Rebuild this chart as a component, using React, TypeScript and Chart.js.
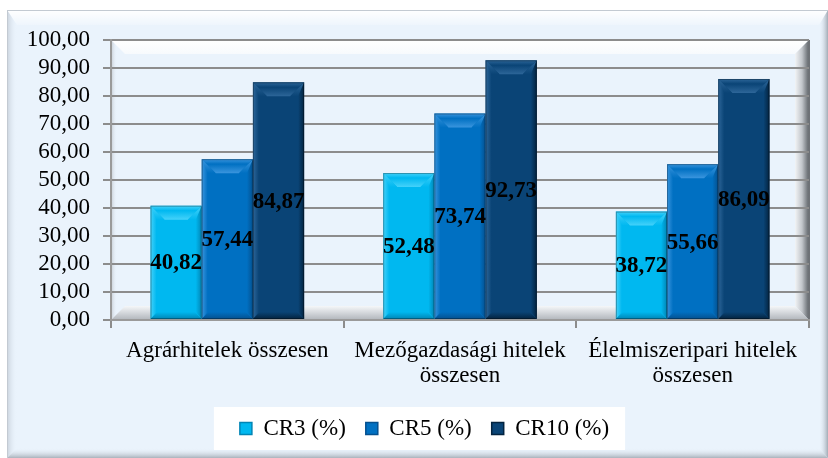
import React, { useEffect, useRef } from 'react';
import { Chart, registerables } from 'chart.js';

Chart.register(...registerables);

// ---- data ----
const categories: (string | string[])[] = [
  'Agrárhitelek összesen',
  ['Mezőgazdasági hitelek', 'összesen'],
  ['Élelmiszeripari hitelek', 'összesen'],
];
const seriesNames = ['CR3 (%)', 'CR5 (%)', 'CR10 (%)'];
const cr3 = [40.82, 52.48, 38.72];
const cr5 = [57.44, 73.74, 55.66];
const cr10 = [84.87, 92.73, 86.09];
const yMin = 0;
const yMax = 100;
const yStep = 10;

// ---- styles ----
const FONT = '"Liberation Serif", "Times New Roman", serif';
const BASE = ['#00B8F0', '#0070C2', '#0A4476'];
const LIGHT = ['#45D2FA', '#3A95DE', '#2D6699'];
const DARK = ['#0085B5', '#04508F', '#03233F'];
const BG = '#EAF3FC';

const fmt = (v: number) => v.toFixed(2).replace('.', ',');

function poly(ctx: CanvasRenderingContext2D, pts: number[][], fill: string | CanvasGradient) {
  ctx.beginPath();
  ctx.moveTo(pts[0][0], pts[0][1]);
  for (let i = 1; i < pts.length; i++) ctx.lineTo(pts[i][0], pts[i][1]);
  ctx.closePath();
  ctx.fillStyle = fill;
  ctx.fill();
}

const decorPlugin = {
  id: 'decor',
  afterUpdate(chart: any) {
    const lg = chart.legend;
    if (!lg) return;
    const dx = 20;
    lg.left += dx;
    lg.right += dx;
    lg.adjustHitBoxes();
  },
  beforeDraw(chart: any) {
    const { ctx, chartArea: a, width: W, height: H } = chart;
    ctx.save();
    ctx.fillStyle = '#ffffff';
    ctx.fillRect(0, 0, W, H);
    // outer frame
    const fx = 7, fy = 10, fr = W, fb = H;
    ctx.fillStyle = BG;
    ctx.fillRect(fx, fy, fr - fx, fb - fy);
    let g = ctx.createLinearGradient(0, fy, 0, fy + 15);
    g.addColorStop(0, '#ffffff');
    g.addColorStop(1, 'rgba(255,255,255,0.2)');
    poly(ctx, [[fx, fy], [fr, fy], [fr - 9, fy + 15], [fx + 10, fy + 15]], g);
    g = ctx.createLinearGradient(fx, 0, fx + 10, 0);
    g.addColorStop(0, '#c9d2dc');
    g.addColorStop(1, 'rgba(234,243,252,0)');
    poly(ctx, [[fx, fy], [fx + 10, fy + 15], [fx + 10, fb - 10], [fx, fb]], g);
    g = ctx.createLinearGradient(fr - 9, 0, fr, 0);
    g.addColorStop(0, 'rgba(234,243,252,0)');
    g.addColorStop(1, '#a3abb5');
    poly(ctx, [[fr, fy], [fr, fb], [fr - 9, fb - 10], [fr - 9, fy + 15]], g);
    g = ctx.createLinearGradient(0, fb - 10, 0, fb);
    g.addColorStop(0, 'rgba(234,243,252,0)');
    g.addColorStop(1, '#aab2bb');
    poly(ctx, [[fx, fb], [fr, fb], [fr - 9, fb - 10], [fx + 10, fb - 10]], g);
    ctx.strokeStyle = '#c3cad2';
    ctx.lineWidth = 1;
    ctx.strokeRect(fx + 0.5, fy + 0.5, fr - fx, fb - fy);

    // back wall bevels
    const b = 14;
    g = ctx.createLinearGradient(0, a.top, 0, a.top + b);
    g.addColorStop(0, '#ffffff');
    g.addColorStop(1, '#f7fafd');
    poly(ctx, [[a.left, a.top], [a.right, a.top], [a.right - b, a.top + b], [a.left + b, a.top + b]], g);
    g = ctx.createLinearGradient(a.left, 0, a.left + 6, 0);
    g.addColorStop(0, '#c4cad1');
    g.addColorStop(1, 'rgba(234,243,252,0)');
    poly(ctx, [[a.left, a.top], [a.left + 6, a.top + 6], [a.left + 6, a.bottom - 6], [a.left, a.bottom]], g);
    g = ctx.createLinearGradient(a.right - b, 0, a.right, 0);
    g.addColorStop(0, '#f2f4f6');
    g.addColorStop(0.5, '#c2c6cb');
    g.addColorStop(1, '#5e6368');
    poly(ctx, [[a.right, a.top], [a.right, a.bottom], [a.right - b, a.bottom - b], [a.right - b, a.top + b]], g);
    g = ctx.createLinearGradient(0, a.bottom - b, 0, a.bottom);
    g.addColorStop(0, '#f5f7f9');
    g.addColorStop(1, '#b0b5bb');
    poly(ctx, [[a.left, a.bottom], [a.right, a.bottom], [a.right - b, a.bottom - b], [a.left + b, a.bottom - b]], g);
    ctx.strokeStyle = '#6e7277';
    ctx.lineWidth = 2;
    ctx.beginPath();
    ctx.moveTo(a.right, a.top);
    ctx.lineTo(a.right, a.bottom);
    ctx.stroke();

    // legend white box
    const lg = chart.legend;
    if (lg && lg.legendHitBoxes && lg.legendHitBoxes.length) {
      const hb = lg.legendHitBoxes;
      const l = hb[0].left - 26;
      const r = hb[hb.length - 1].left + hb[hb.length - 1].width + 16;
      ctx.fillStyle = '#ffffff';
      ctx.fillRect(l, lg.top + 10, r - l, lg.bottom - lg.top - 10);
    }
    ctx.restore();
  },
  afterDatasetsDraw(chart: any) {
    const { ctx } = chart;
    ctx.save();
    chart.data.datasets.forEach((ds: any, di: number) => {
      const meta = chart.getDatasetMeta(di);
      meta.data.forEach((bar: any) => {
        const { x, y, base, width } = bar.getProps(['x', 'y', 'base', 'width'], true);
        const x0 = x - width / 2, x1 = x + width / 2, top = y, bot = base;
        const bt = 14, bs = 6, bb = 7;
        let g = ctx.createLinearGradient(0, top, 0, top + bt);
        g.addColorStop(0, LIGHT[di]);
        g.addColorStop(0.35, BASE[di]);
        g.addColorStop(1, LIGHT[di]);
        poly(ctx, [[x0, top], [x1, top], [x1 - bt, top + bt], [x0 + bt, top + bt]], g);
        g = ctx.createLinearGradient(x0, 0, x0 + bs, 0);
        g.addColorStop(0, LIGHT[di]);
        g.addColorStop(1, BASE[di]);
        poly(ctx, [[x0, top], [x0 + bs, top + bs], [x0 + bs, bot - bb], [x0, bot]], g);
        g = ctx.createLinearGradient(x1 - bs, 0, x1, 0);
        g.addColorStop(0, BASE[di]);
        g.addColorStop(1, DARK[di]);
        poly(ctx, [[x1, top], [x1, bot], [x1 - bs, bot - bb], [x1 - bs, top + bs]], g);
        g = ctx.createLinearGradient(0, top, 0, top + bt);
        g.addColorStop(0, LIGHT[di]);
        g.addColorStop(1, BASE[di]);
        poly(ctx, [[x0, top], [x0 + bt, top + bt], [x0 + bs, top + bt]], g);
        poly(ctx, [[x1, top], [x1 - bt, top + bt], [x1 - bs, top + bt]], g);
        g = ctx.createLinearGradient(0, bot - bb, 0, bot);
        g.addColorStop(0, BASE[di]);
        g.addColorStop(1, DARK[di]);
        poly(ctx, [[x0, bot], [x1, bot], [x1 - bb, bot - bb], [x0 + bb, bot - bb]], g);
        ctx.strokeStyle = 'rgba(0,0,0,0.3)';
        ctx.lineWidth = 1;
        ctx.strokeRect(x0 + 0.5, top + 0.5, width - 1, bot - top - 1);
      });
    });
    ctx.fillStyle = '#000000';
    ctx.font = `bold 23px ${FONT}`;
    ctx.textAlign = 'center';
    ctx.textBaseline = 'middle';
    chart.data.datasets.forEach((ds: any, di: number) => {
      const meta = chart.getDatasetMeta(di);
      meta.data.forEach((bar: any, i: number) => {
        const { x, y, base } = bar.getProps(['x', 'y', 'base'], true);
        ctx.fillText(fmt(ds.data[i]), x, (y + base) / 2 + 1);
      });
    });
    ctx.restore();
  },
};

export default function App() {
  const ref = useRef<HTMLCanvasElement | null>(null);
  useEffect(() => {
    if (!ref.current) return;
    const series = [cr3, cr5, cr10];
    const chart = new Chart(ref.current, {
      type: 'bar',
      data: {
        labels: categories,
        datasets: series.map((d, i) => ({
          label: seriesNames[i],
          data: d,
          backgroundColor: BASE[i],
          borderColor: DARK[i],
          borderWidth: 0,
          categoryPercentage: 0.66,
          barPercentage: 1,
        })),
      },
      options: {
        responsive: false,
        animation: false,
        devicePixelRatio: 1,
        layout: { padding: { left: 0, right: 19, top: 40, bottom: 8 } },
        plugins: {
          tooltip: { enabled: false },
          legend: {
            position: 'bottom',
            labels: {
              color: '#000000',
              font: { family: FONT, size: 23 },
              boxWidth: 12,
              boxHeight: 12,
              padding: 20,
              generateLabels: (c: any) =>
                c.data.datasets.map((ds: any, i: number) => ({
                  text: ds.label,
                  fillStyle: BASE[i],
                  strokeStyle: DARK[i],
                  lineWidth: 1.5,
                  hidden: false,
                  datasetIndex: i,
                  fontColor: '#000000',
                })),
            },
          },
        },
        scales: {
          x: {
            grid: { drawOnChartArea: false, drawTicks: true, tickLength: 8, color: '#8c8c8c', lineWidth: 2 },
            border: { display: true, color: '#9a9a9a', width: 2 },
            ticks: { color: '#000000', font: { family: FONT, size: 23, lineHeight: 1.09 }, padding: 10, maxRotation: 0, autoSkip: false },
            afterFit: (s: any) => { s.height = 77; },
          },
          y: {
            min: yMin,
            max: yMax,
            grid: { color: '#8c8c8c', lineWidth: 2, tickLength: 8 },
            border: { display: true, color: '#9a9a9a', width: 2 },
            ticks: {
              stepSize: yStep,
              autoSkip: false,
              color: '#000000',
              font: { family: FONT, size: 23 },
              padding: 13,
              callback: (v: any) => fmt(Number(v)),
            },
            afterFit: (s: any) => { s.width = 111; },
          },
        },
      },
      plugins: [decorPlugin],
    } as any);
    return () => chart.destroy();
  }, []);
  return (
    <div style={{ position: 'absolute', left: 0, top: 0, width: 828, height: 458 }}>
      <canvas ref={ref} width={828} height={458} style={{ width: 828, height: 458, display: 'block' }} />
    </div>
  );
}
